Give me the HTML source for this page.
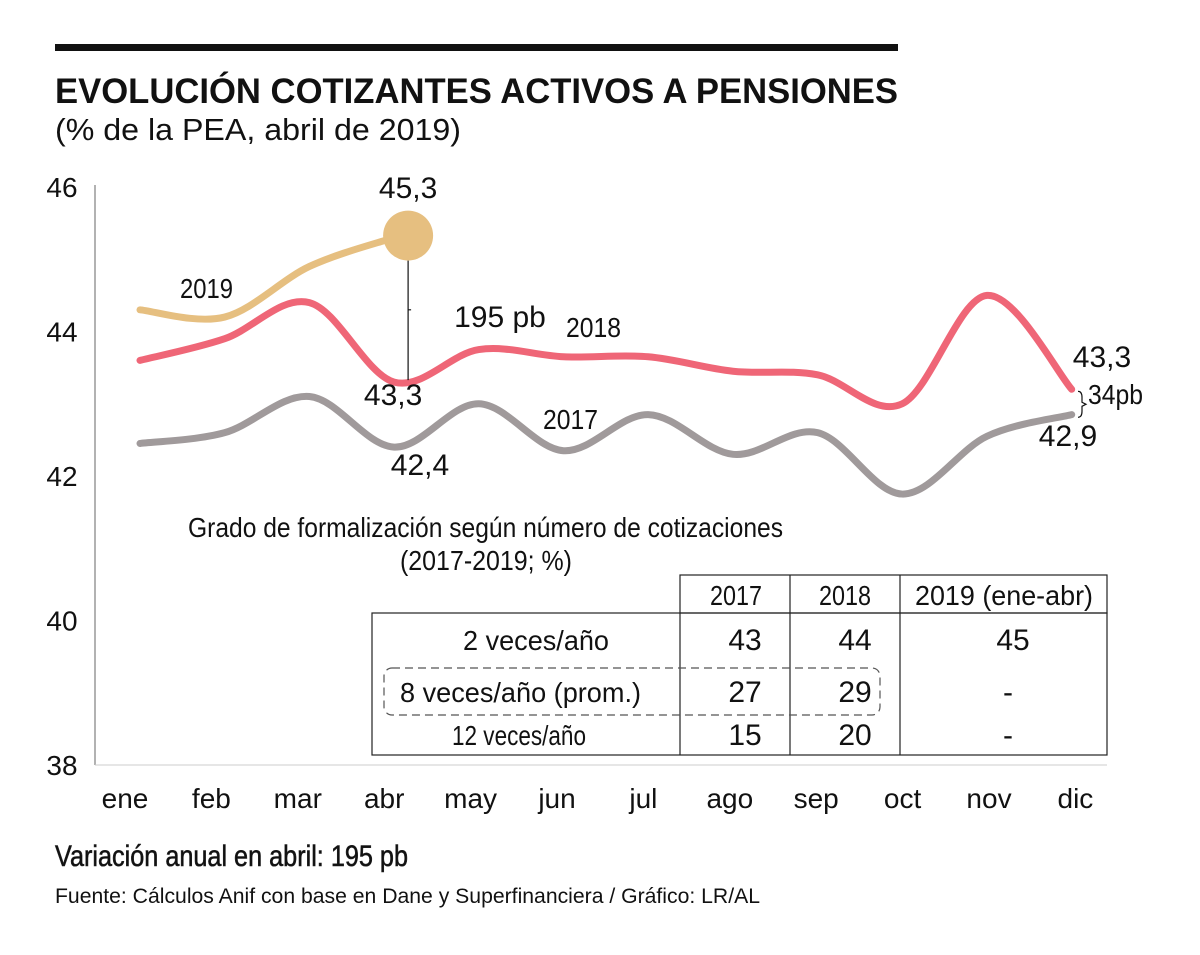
<!DOCTYPE html>
<html><head><meta charset="utf-8"><style>
body{margin:0;background:#fff;}
svg text{font-family:"Liberation Sans",sans-serif;fill:#111;}
</style></head><body>
<svg width="1200" height="950" viewBox="0 0 1200 950">
<rect x="55" y="44" width="843" height="7" fill="#111"/>
<text x="55" y="103" font-size="35" font-weight="bold" textLength="843" lengthAdjust="spacingAndGlyphs">EVOLUCIÓN COTIZANTES ACTIVOS A PENSIONES</text>
<text x="55" y="140" font-size="31" textLength="406" lengthAdjust="spacingAndGlyphs">(% de la PEA, abril de 2019)</text>
<line x1="95" y1="185" x2="95" y2="765" stroke="#999" stroke-width="1.5"/>
<line x1="95" y1="765" x2="1107" y2="765" stroke="#ccc" stroke-width="1"/>
<g id="yticks"></g><g id="xticks"></g><g id="lines"></g>
<g font-size="28">
<rect x="680" y="575" width="427" height="38" fill="none" stroke="#222" stroke-width="1.2"/>
<line x1="790" y1="575" x2="790" y2="755" stroke="#222" stroke-width="1.2"/>
<line x1="900" y1="575" x2="900" y2="755" stroke="#222" stroke-width="1.2"/>
<rect x="372" y="613" width="735" height="142" fill="none" stroke="#222" stroke-width="1.2"/>
<line x1="680" y1="613" x2="680" y2="755" stroke="#222" stroke-width="1.2"/>
<rect x="384" y="668" width="496" height="47" rx="8" fill="none" stroke="#555" stroke-width="1.2" stroke-dasharray="8,5"/>
<text x="710" y="605" textLength="52" lengthAdjust="spacingAndGlyphs">2017</text><text x="819" y="605" textLength="52" lengthAdjust="spacingAndGlyphs">2018</text><text x="915" y="605" textLength="178" lengthAdjust="spacingAndGlyphs">2019 (ene-abr)</text>
<text x="463" y="650" textLength="146" lengthAdjust="spacingAndGlyphs">2 veces/año</text><text x="400" y="702" textLength="241" lengthAdjust="spacingAndGlyphs">8 veces/año (prom.)</text><text x="452" y="745" textLength="134" lengthAdjust="spacingAndGlyphs">12 veces/año</text>
<g font-size="30">
<text x="745" y="650" text-anchor="middle">43</text><text x="855" y="650" text-anchor="middle">44</text><text x="1013" y="650" text-anchor="middle">45</text>
<text x="745" y="702" text-anchor="middle">27</text><text x="855" y="702" text-anchor="middle">29</text><text x="1008" y="702" text-anchor="middle">-</text>
<text x="745" y="745" text-anchor="middle">15</text><text x="855" y="745" text-anchor="middle">20</text><text x="1008" y="745" text-anchor="middle">-</text></g>
</g>
<text x="188" y="537" font-size="28" textLength="595" lengthAdjust="spacingAndGlyphs">Grado de formalización según número de cotizaciones</text>
<text x="400" y="570" font-size="28" textLength="172" lengthAdjust="spacingAndGlyphs">(2017-2019; %)</text>
<text x="55" y="866" font-size="30" fill="#222" stroke="#222" stroke-width="0.6" textLength="353" lengthAdjust="spacingAndGlyphs">Variación anual en abril: 195 pb</text>
<text x="55" y="903" font-size="21" fill="#333" textLength="705" lengthAdjust="spacingAndGlyphs">Fuente: Cálculos Anif con base en Dane y Superfinanciera / Gráfico: LR/AL</text>
</svg>
<script>
const months=["ene","feb","mar","abr","may","jun","jul","ago","sep","oct","nov","dic"];
const yTicks=[38,40,42,44,46];
const s2019=[44.3,44.2,44.9,45.3];
const s2018=[43.6,43.9,44.4,43.3,43.75,43.65,43.65,43.45,43.4,43.0,44.5,43.2];
const s2017=[42.45,42.6,43.1,42.4,43.0,42.35,42.85,42.3,42.6,41.75,42.55,42.85];
const NS="http://www.w3.org/2000/svg";
const y=v=>765-(v-38)*72.25;
const x=i=>140+i*84.7;
const lx=i=>125+i*86.4;
function mk(tag,a,p){const e=document.createElementNS(NS,tag);for(const k in a)e.setAttribute(k,a[k]);p.appendChild(e);return e;}
const yg=document.getElementById('yticks');
yTicks.forEach(t=>{const e=mk('text',{x:62,y:y(t)+10,'font-size':28,'text-anchor':'middle',fill:'#333'},yg);


e.textContent=t;});
const xg=document.getElementById('xticks');
months.forEach((m,i)=>{const e=mk('text',{x:lx(i),y:808,'font-size':28,'text-anchor':'middle'},xg);


e.textContent=m;});
function path(d){const p=d.map((v,i)=>[x(i),y(v)]);let s=`M${p[0][0]},${p[0][1]}`;
for(let i=0;i<p.length-1;i++){const a=p[i-1]||p[i],b=p[i],c=p[i+1],e=p[i+2]||c;
s+=` C${b[0]+(c[0]-a[0])/6},${b[1]+(c[1]-a[1])/6} ${c[0]-(e[0]-b[0])/6},${c[1]-(e[1]-b[1])/6} ${c[0]},${c[1]}`;}return s;}
const lg=document.getElementById('lines');
let e;
e=mk('path',{d:path(s2017),fill:'none',stroke:'#a09a9b','stroke-width':7,'stroke-linecap':'round'},lg);


e=mk('path',{d:path(s2018),fill:'none',stroke:'#ef6677','stroke-width':7,'stroke-linecap':'round'},lg);


e=mk('path',{d:path(s2019),fill:'none',stroke:'#e6bf80','stroke-width':7,'stroke-linecap':'round'},lg);


e=mk('circle',{cx:x(3)+14,cy:y(s2019[3])-2,r:25,fill:'#e6bf80'},lg);


const gx=x(3)+14;
e=mk('path',{d:`M${gx},${y(s2019[3])+23} L${gx},${y(s2018[3])-2} M${gx},${(y(s2019[3])+y(s2018[3]))/2} l3,0`,stroke:'#111','stroke-width':1.2,fill:'none'},lg);


e=mk('path',{d:`M1078,${y(s2018[11])+2} q4,0 4,6 l0,5 l4,2 l-4,2 l0,5 q0,6 -4,6`,stroke:'#111','stroke-width':1.2,fill:'none'},lg);


const labels=[["45,3",gx,198,30,0],["195 pb",500,327,30,0],["2018",566,337,28,55],["2019",180,298,28,53],["43,3",gx-15,405,30,0],["2017",543,429,28,55],["42,4",420,475,30,0],["43,3",1102,367,30,0],["34pb",1088,404,28,55],["42,9",1068,446,30,0]];
labels.forEach(l=>{const a={x:l[1],y:l[2],'font-size':l[3]};
if(l[4]){a.textLength=l[4];a.lengthAdjust='spacingAndGlyphs';}else a['text-anchor']='middle';
const t=mk('text',a,lg);


t.textContent=l[0];});
</script>
</body></html>
